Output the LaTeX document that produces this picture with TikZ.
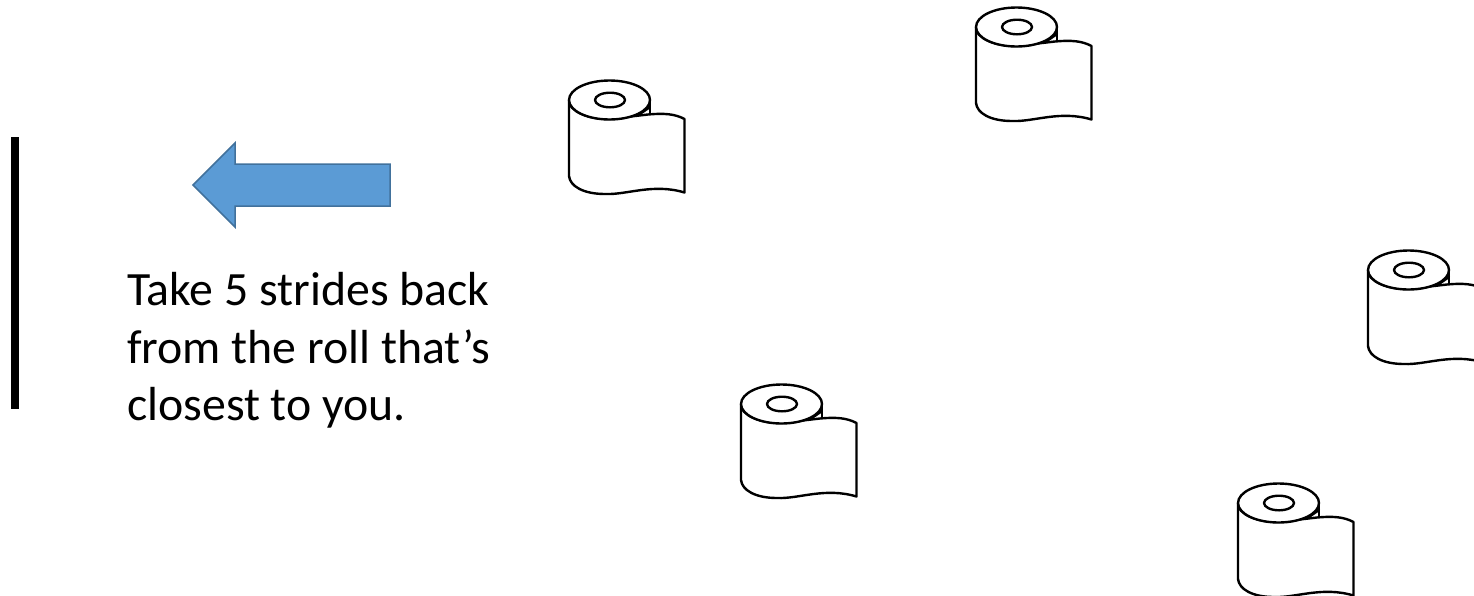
\documentclass[tikz,border=0pt]{standalone}
\usepackage{fontspec}
\setmainfont{Carlito}
\definecolor{arrowfill}{HTML}{5B9BD5}
\definecolor{arrowline}{HTML}{41719C}
\tikzset{
  x=1pt,y=-1pt,
  rollline/.style={draw=black,line width=2.4pt,line join=round,line cap=round,fill=white},
  rollthin/.style={draw=black,line width=2.4pt,line join=round,line cap=round},
  roll/.pic={
    % sheet hanging from the roll
    \path[rollline] (0,20) -- (0,96)
      .. controls (1,106) and (14,114) .. (36,114)
      .. controls (58,115) and (84,103) .. (115.5,112.5)
      -- (115.5,39)
      .. controls (106,34) and (96,33) .. (79,34.5)
      -- (40,39) .. controls (20,39) and (0,32) .. (0,20) -- cycle;
    \path[rollthin] (81,20) -- (81,34);
    \path[rollthin] (81,27) -- (68,36);
    \path[rollline] (40.5,20) ellipse [x radius=40.5,y radius=19.5];
    \path[rollthin] (41,20) ellipse [x radius=15,y radius=7.3];
  }
}
\begin{document}
\begin{tikzpicture}
\useasboundingbox (0,0) rectangle (1474,595);
\clip (0,0) rectangle (1474,595);
\fill[black] (10.5,137) rectangle (18.5,409);
\path[fill=arrowfill,draw=arrowline,line width=1.5pt,line join=miter]
  (193,185) -- (235,143) -- (235,164) -- (390,164) -- (390,206) -- (235,206) -- (235,227) -- cycle;
\node[anchor=north west,inner sep=0pt,align=left,font=\fontsize{47.8}{57.5}\selectfont] (caption) at (127,272.5)
  {Take 5 strides back\\from the roll that’s\\closest to you.};
\pic at (569,80) {roll};
\pic at (976,7) {roll};
\pic at (1368,250) {roll};
\pic at (741,384) {roll};
\pic at (1238,483) {roll};
\end{tikzpicture}
\end{document}
